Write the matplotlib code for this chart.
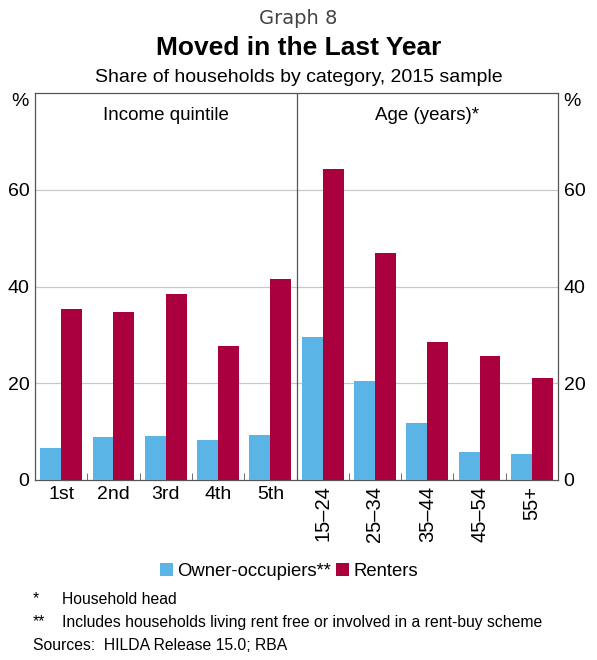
import matplotlib
matplotlib.use("Agg")
import matplotlib.pyplot as plt
import numpy as np

plt.rcParams['font.family'] = ['Liberation Sans', 'DejaVu Sans']

income_cats = ["1st", "2nd", "3rd", "4th", "5th"]
age_cats = ["15\u201324", "25\u201334", "35\u201344", "45\u201354", "55+"]
owner_income = [6.6, 8.9, 9.1, 8.2, 9.3]
renter_income = [35.3, 34.8, 38.4, 27.6, 41.6]
owner_age = [29.5, 20.4, 11.7, 5.8, 5.3]
renter_age = [64.3, 47.0, 28.5, 25.6, 21.1]
yticks = [0, 20, 40, 60]

blue = "#5AB4E5"
red = "#AA003E"

fig = plt.figure(figsize=(5.97, 6.6), dpi=100)
ax = fig.add_axes([35/597, 1-480/660, (558-35)/597, (480-93)/660])

cats = income_cats + age_cats
owners = owner_income + owner_age
renters = renter_income + renter_age
x = np.arange(len(cats))
w = 0.4
ax.bar(x - w/2, owners, w, color=blue, label="Owner-occupiers**", zorder=3)
ax.bar(x + w/2, renters, w, color=red, label="Renters", zorder=3)

ax.set_xlim(-0.5, len(cats) - 0.5)
ax.set_ylim(0, 80)
ax.set_yticks(yticks)
for y in yticks[1:]:
    ax.axhline(y, color="#c8c8c8", lw=0.9, zorder=1)
ax.axvline(4.5, color="#555555", lw=0.9, zorder=4)

for s in ax.spines.values():
    s.set_color("#555555")
    s.set_linewidth(0.9)

ax.tick_params(axis='y', length=0, labelsize=14, pad=4, labelright=True, right=False)
ax.set_xticks(x)
ax.tick_params(axis='x', length=0, labelsize=14, pad=4)
labels = ax.set_xticklabels(cats)
for lbl in labels[5:]:
    lbl.set_rotation(90)
    lbl.set_va('top')
    lbl.set_fontsize(14.5)
ax.set_xticks([i + 0.5 for i in range(len(cats) - 1) if i != 4], minor=True)
ax.tick_params(axis='x', which='minor', length=5, direction='in', color="#555555")

ax.text(0.25, 0.965, "Income quintile", transform=ax.transAxes, ha='center', va='top', fontsize=13.5)
ax.text(0.75, 0.965, "Age (years)*", transform=ax.transAxes, ha='center', va='top', fontsize=13.5)

fig.text(20/597, 1-102/660, "%", ha='center', va='center', fontsize=14)
fig.text(572/597, 1-102/660, "%", ha='center', va='center', fontsize=14)

fig.text(0.5, 1-18/660, "Graph 8", ha='center', va='center', fontsize=14, color="#444444",
         family=['DejaVu Sans'])
fig.text(0.5, 1-48/660, "Moved in the Last Year", ha='center', va='center', fontsize=19, fontweight='bold')
fig.text(0.5, 1-77/660, "Share of households by category, 2015 sample", ha='center', va='center', fontsize=14)

fig.legend(loc='center', bbox_to_anchor=(289/597, 1-571/660), ncol=2, frameon=False, fontsize=13.3,
           handlelength=0.7, handleheight=0.7, handletextpad=0.25, columnspacing=0.25)

fs = 11.3
fig.text(33/597, 1-599/660, "*", ha='left', va='center', fontsize=fs)
fig.text(62/597, 1-599/660, "Household head", ha='left', va='center', fontsize=fs)
fig.text(33/597, 1-622/660, "**", ha='left', va='center', fontsize=fs)
fig.text(62/597, 1-622/660, "Includes households living rent free or involved in a rent-buy scheme",
         ha='left', va='center', fontsize=fs)
fig.text(33/597, 1-645/660, "Sources:  HILDA Release 15.0; RBA", ha='left', va='center', fontsize=fs)

fig.savefig("out.png", dpi=100)
